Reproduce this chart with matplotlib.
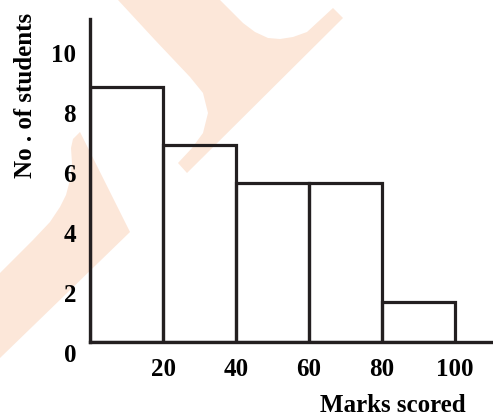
import numpy as np
import matplotlib.pyplot as plt
from matplotlib.patches import Polygon
from matplotlib.transforms import ScaledTranslation

# histogram data
bin_edges = [0, 20, 40, 60, 80, 100]
counts = [8.5, 6.57, 5.3, 5.3, 1.33]
x_ticks = [20, 40, 60, 80, 100]
y_ticks = [0, 2, 4, 6, 8, 10]

W, H = 493, 417
ink = "#231f20"
fig = plt.figure(figsize=(W / 100, H / 100), dpi=100)

# pale watermark behind the chart (pixel outlines, y measured from top)
mark_a = [(118, 0), (155, 40), (190, 77), (203, 93), (208, 113), (203, 133),
          (192, 148), (178, 163), (187, 173), (343, 18), (333, 8), (320, 20),
          (307, 32), (293, 37), (280, 39), (268, 38), (255, 32), (243, 23), (220, 0)]
mark_b = [(0, 273), (33, 240), (50, 222), (60, 207), (66, 195), (70, 180),
          (72, 163), (71, 148), (73, 139), (80, 132), (130, 232), (0, 358)]
for pts in (mark_a, mark_b):
    fig.patches.append(Polygon([(x / W, 1 - y / H) for x, y in pts], closed=True,
                               transform=fig.transFigure, facecolor="#fce7d9",
                               edgecolor="none", zorder=0))

ax = fig.add_axes([90 / W, 1 - 342 / H, 403 / W, 323 / H])
ax.set_zorder(1)
ax.patch.set_alpha(0)

widths = np.diff(bin_edges)
ax.bar(bin_edges[:-1], counts, width=widths, align="edge", facecolor="none",
       edgecolor=ink, linewidth=2.3)

ax.set_xlim(0, 110.4)
ax.set_ylim(0, 10.77)
for side in ("top", "right"):
    ax.spines[side].set_visible(False)
for side in ("left", "bottom"):
    ax.spines[side].set_linewidth(2.4)
    ax.spines[side].set_color(ink)

font = dict(family="Liberation Serif", weight="bold", size=18)
ax.set_xticks(x_ticks)
ax.set_xticklabels([str(v) for v in x_ticks], **font)
ax.set_yticks(y_ticks)
ax.set_yticklabels([str(v) for v in y_ticks], **font)
ax.tick_params(axis="both", length=0)
ax.tick_params(axis="x", pad=11.5)
ax.tick_params(axis="y", pad=10)
# the printed y labels sit a little below their gridline
for lbl in ax.get_yticklabels():
    lbl.set_transform(lbl.get_transform() + ScaledTranslation(0, -0.11, fig.dpi_scale_trans))

fig.text(393 / W, 1 - 405 / H, "Marks scored", ha="center", va="center", **font)
fig.text(26 / W, 1 - 95 / H, "No . of students", ha="center", va="center",
         rotation=90, **font)

fig.savefig("out.png", dpi=100)
